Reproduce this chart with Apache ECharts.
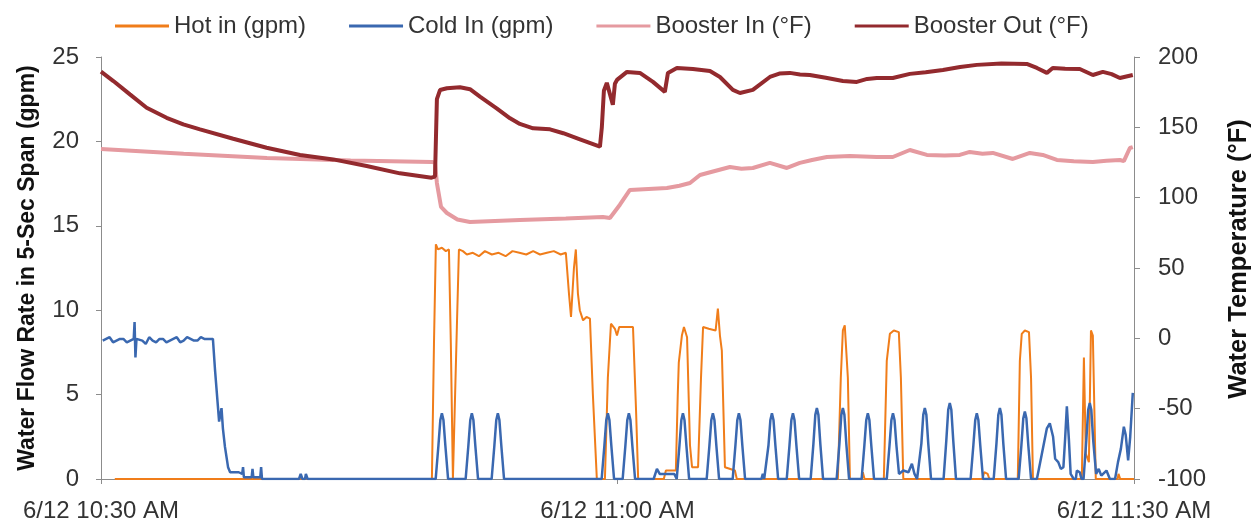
<!DOCTYPE html>
<html>
<head>
<meta charset="utf-8">
<script src="https://cdn.jsdelivr.net/npm/echarts@6/dist/echarts.min.js"></script>
<style>
  html, body { margin: 0; padding: 0; background: #fff; }
  #chart { width: 1255px; height: 529px; }
</style>
</head>
<body>
<div id="chart"></div>
<script>
// Time is given in minutes after 10:30 AM on 6/12.
const xLabels = ['6/12 10:30 AM', '6/12 11:00 AM', '6/12 11:30 AM'];
const seriesNames = ['Hot in (gpm)', 'Cold In (gpm)', 'Booster In (°F)', 'Booster Out (°F)'];

// Hot water flow, gpm
const hotIn = [
  [0.8,0],[19.22,0],[19.34,8],[19.45,13.9],[19.57,13.6],[19.8,13.7],[20.03,13.5],[20.21,13.6],[20.32,8],[20.44,0],
  [20.55,0],[20.67,9],[20.79,13.6],[21.02,13.5],[21.25,13.3],[21.6,13.4],[21.95,13.2],[22.3,13.5],[22.7,13.3],
  [23.1,13.4],[23.5,13.2],[23.9,13.5],[24.3,13.4],[24.7,13.3],[25.1,13.5],[25.5,13.3],[25.9,13.4],[26.3,13.5],
  [26.7,13.3],[27.0,13.4],[27.18,11],[27.3,9.6],[27.47,12.5],[27.58,13.6],[27.7,11],[27.81,10.0],[28.0,9.4],
  [28.2,9.6],[28.4,9.5],[28.57,5],[28.8,0],
  [29.27,0],[29.44,6],[29.62,9.2],[29.85,8.9],[29.97,8.5],[30.1,9.0],[30.5,9.0],[30.9,9.0],[31.08,4],[31.2,0],
  [32.69,0],[32.81,0.5],[33.39,0.5],[33.5,5],[33.56,6.9],[33.74,8.5],[33.86,9.0],[34.04,8.4],[34.21,2],[34.33,0.7],
  [34.68,0.7],[34.85,6],[34.97,9.0],[35.3,8.9],[35.7,8.8],[35.83,10.1],[35.95,8.5],[36.06,7.6],[36.18,3],[36.24,0.7],
  [36.82,0.5],[36.93,0],
  [42.8,0],[42.97,6],[43.09,8.8],[43.2,9.1],[43.38,6],[43.5,0],
  [44.19,0],[44.25,0.4],[44.35,0],
  [45.47,0],[45.64,7],[45.82,8.6],[46.05,8.8],[46.34,8.7],[46.46,6],[46.6,0],
  [51.2,0],[51.3,0.4],[51.5,0.3],[51.6,0],
  [53.25,0],[53.37,7],[53.48,8.6],[53.66,8.8],[53.9,8.7],[54.02,6],[54.13,0],
  [56.97,0],[57.09,7.2],[57.2,1.5],[57.38,1.0],[57.5,8.8],[57.61,8.5],[57.78,0],
  [59.05,0],[59.1,0.3],[59.2,0],[60,0]
];

// Cold water flow, gpm
const coldIn = [
  [0.1,8.2],[0.3,8.3],[0.5,8.4],[0.7,8.1],[0.9,8.2],[1.1,8.3],[1.3,8.3],[1.5,8.1],[1.7,8.2],[1.9,8.3],[1.95,9.3],[2.0,7.2],
  [2.06,8.3],[2.4,8.2],[2.6,8.0],[2.8,8.4],[3.0,8.2],[3.2,8.1],[3.4,8.3],[3.6,8.3],[3.8,8.1],[4.0,8.2],[4.2,8.3],[4.4,8.4],
  [4.6,8.1],[4.8,8.2],[5.0,8.4],[5.2,8.3],[5.4,8.2],[5.6,8.2],[5.8,8.4],[6.0,8.3],[6.5,8.3],[6.62,6.5],[6.79,4.3],
  [6.86,3.4],[6.92,3.3],[7.0,4.2],[7.08,3.0],[7.2,1.9],[7.38,0.7],[7.5,0.4],[8.0,0.4],[8.2,0.3],[8.25,0.7],[8.3,0.1],
  [8.75,0.1],[8.8,0.6],[8.85,0.1],[9.25,0.1],[9.3,0.7],[9.35,0],[11.5,0],[11.6,0.3],[11.7,0],[11.85,0],[11.9,0.3],[12.0,0],
  [19.44,0],[19.6,2.0],[19.71,3.5],[19.8,3.9],[19.89,3.5],[20.0,2.0],[20.16,0],
  [21.18,0],[21.34,2.0],[21.45,3.5],[21.54,3.9],[21.63,3.5],[21.74,2.0],[21.9,0],
  [22.69,0],[22.85,2.0],[22.96,3.5],[23.05,3.9],[23.14,3.5],[23.25,2.0],[23.41,0],
  [29.08,0],[29.24,2.0],[29.35,3.5],[29.44,3.9],[29.53,3.5],[29.64,2.0],[29.8,0],
  [30.3,0],[30.46,2.0],[30.57,3.5],[30.66,3.9],[30.75,3.5],[30.86,2.0],[31.02,0],
  [32.1,0],[32.29,0.6],[32.45,0.3],[33.3,0.3],[33.44,0],
  [33.6,2.0],[33.71,3.5],[33.8,3.9],[33.89,3.5],[34.0,2.0],[34.16,0],
  [35.18,0],[35.34,2.0],[35.45,3.5],[35.54,3.9],[35.63,3.5],[35.74,2.0],[35.9,0],
  [36.69,0],[36.85,2.0],[36.96,3.5],[37.05,3.9],[37.14,3.5],[37.25,2.0],[37.41,0],
  [38.36,0],[38.44,0.3],[38.52,0],
  [38.61,0],[38.77,2.0],[38.88,3.5],[38.97,3.9],[39.06,3.5],[39.17,2.0],[39.33,0],
  [39.83,0],[39.99,2.0],[40.1,3.5],[40.19,3.9],[40.28,3.5],[40.39,2.0],[40.55,0],
  [41.22,0],[41.38,2.1],[41.49,3.8],[41.58,4.2],[41.67,3.8],[41.78,2.1],[41.94,0],
  [42.73,0],[42.89,2.1],[43.0,3.8],[43.09,4.2],[43.18,3.8],[43.29,2.1],[43.45,0],
  [44.18,0],[44.34,2.0],[44.45,3.5],[44.54,3.9],[44.63,3.5],[44.74,2.0],[44.9,0],
  [45.64,0],[45.8,2.0],[45.91,3.5],[46.0,3.9],[46.09,3.5],[46.2,2.0],[46.35,0.3],
  [46.6,0.5],[46.9,0.4],[47.1,0.9],[47.25,0.3],[47.4,0],
  [47.49,0],[47.65,2.1],[47.76,3.8],[47.85,4.2],[47.94,3.8],[48.05,2.1],[48.21,0],
  [48.94,0],[49.1,2.3],[49.21,4.1],[49.3,4.5],[49.39,4.1],[49.5,2.3],[49.66,0],
  [50.51,0],[50.67,2.0],[50.78,3.5],[50.87,3.9],[50.96,3.5],[51.07,2.0],[51.23,0],
  [51.85,0],[52.01,2.1],[52.12,3.8],[52.21,4.2],[52.3,3.8],[52.41,2.1],[52.57,0],
  [53.3,0],[53.46,2.0],[53.57,3.6],[53.66,4.0],[53.75,3.6],[53.86,2.0],[54.02,0],
  [54.36,0],[54.65,1.5],[54.94,3.0],[55.11,3.3],[55.3,2.5],[55.42,1.2],[55.6,1.0],[55.75,0.6],[55.9,0.7],
  [56.0,2.4],[56.1,4.3],[56.22,2.3],[56.32,0.3],[56.5,0],
  [56.62,0],[56.68,0.5],[56.85,0.4],[56.95,0],
  [57.07,0],[57.23,2.3],[57.34,4.1],[57.43,4.5],[57.52,4.1],[57.63,2.3],[57.8,0.3],[57.95,0.6],[58.1,0.2],[58.4,0.5],[58.6,0],
  [58.9,0],[59.07,1.0],[59.24,1.8],[59.41,3.1],[59.52,2.6],[59.66,1.1],[59.78,2.5],[59.93,5.1]
];

// Booster heater inlet temperature, °F
const boosterIn = [
  [0,134.6],[4.8,131.2],[9.64,128.2],[14.5,126.5],[19.22,125.4],[19.4,124.7],[19.51,110.4],[19.75,93.4],[20.09,89.1],
  [20.7,84.5],[21.43,82.7],[24.33,84.1],[27.0,85.2],[29.15,86.3],[29.56,85.6],[30.14,95],[30.72,105.5],[31.8,106.2],
  [32.87,106.9],[33.6,108.5],[34.21,110.4],[34.79,116.1],[35.6,118.8],[36.53,121.8],[37.2,120.6],[37.86,121.1],
  [38.85,124.7],[39.84,121.1],[40.59,124.7],[41.3,126.8],[42.16,128.9],[43.5,129.6],[45.06,128.9],[45.99,128.9],
  [46.98,133.9],[47.97,130.4],[49.0,130.0],[49.88,130.4],[50.46,132.5],[51.2,131.2],[51.8,131.8],[52.96,127.5],
  [53.95,131.8],[54.7,130.4],[55.52,126.8],[56.5,125.9],[57.61,125.4],[58.4,126.2],[59.18,126.8],[59.41,126],
  [59.76,135.3],[59.93,136]
];

// Booster heater outlet temperature, °F
const boosterOut = [
  [0,189.6],[0.72,182.9],[1.68,173.4],[2.65,163.9],[3.81,156.8],[4.78,152.1],[5.75,148.5],[7.68,141.9],[9.62,135.5],
  [11.56,130.3],[13.49,127.2],[15.43,122.5],[17.36,117.3],[19.2,114.2],[19.4,115],
  [19.51,170],[19.69,176.5],[20.09,177.8],[20.85,178.5],[21.43,177.1],[22.01,171.8],[22.98,163.5],[23.76,156.4],
  [24.33,152.4],[25.1,149.3],[26.08,148.6],[26.85,145.8],[27.82,141.5],[28.98,136.2],[29.09,150],[29.21,176],
  [29.38,181.6],[29.73,166],[29.85,181],[29.97,183.7],[30.55,189.4],[31.3,188.7],[32.06,182.3],[32.75,175.2],
  [32.93,188.7],[33.45,192.2],[34.38,191.5],[35.37,190],[35.95,185.8],[36.7,176.6],[37.11,174.4],[37.86,176.6],
  [38.85,185.8],[39.4,188.2],[40.01,188.7],[40.6,187.6],[41.17,187.2],[42.1,185.2],[43.09,183],[43.9,182.3],
  [44.5,184.4],[45.06,185.1],[45.99,185.1],[46.98,188],[47.9,189.2],[48.9,190.8],[49.9,192.9],[50.87,194.4],
  [52.3,195.4],[53.77,195.1],[54.36,192.2],[54.94,188.7],[55.28,192.2],[56.0,191.6],[56.85,191.5],[57.61,187.2],
  [58.19,189.4],[58.7,187.8],[59.18,185.1],[59.93,187.2]
];

const colors = ['#f07d1a', '#3a68b0', '#e59aa0', '#932a2e'];
const axisGrey = '#8c8c8c';
const textColor = '#333';
const fontFamily = '"Liberation Sans", Arial, sans-serif';

const chart = echarts.init(document.getElementById('chart'), null, { renderer: 'canvas' });

chart.setOption({
  animation: false,
  backgroundColor: '#fff',
  textStyle: { fontFamily: fontFamily },
  color: colors,
  legend: {
    data: seriesNames,
    icon: 'rect',
    left: 110,
    top: 9,
    itemWidth: 54,
    itemHeight: 3,
    itemGap: 43,
    textStyle: { fontSize: 24, color: textColor, fontFamily: fontFamily }
  },
  grid: { left: 101, right: 121, top: 57, bottom: 50, containLabel: false, outerBoundsMode: 'none' },
  xAxis: {
    type: 'value',
    min: 0,
    max: 60,
    interval: 30,
    axisLine: { show: true, onZero: false, lineStyle: { color: axisGrey, width: 1 } },
    axisTick: { show: true, length: 5, lineStyle: { color: axisGrey } },
    splitLine: { show: false },
    axisLabel: {
      fontSize: 24, color: textColor, margin: 20,
      formatter: v => xLabels[Math.round(v / 30)]
    }
  },
  yAxis: [
    {
      type: 'value',
      min: 0, max: 25, interval: 5,
      name: 'Water Flow Rate in 5-Sec Span (gpm)',
      nameLocation: 'middle',
      nameRotate: 90,
      nameGap: 62,
      nameTextStyle: { fontSize: 23, fontWeight: 'bold', color: '#111' },
      axisLine: { show: true, lineStyle: { color: axisGrey, width: 1 } },
      axisTick: { show: true, length: 5, lineStyle: { color: axisGrey } },
      splitLine: { show: false },
      axisLabel: { fontSize: 24, color: textColor, margin: 22 }
    },
    {
      type: 'value',
      position: 'right',
      min: -100, max: 200, interval: 50,
      name: 'Water Temperature (°F)',
      nameLocation: 'middle',
      nameRotate: 90,
      nameGap: 92,
      nameTextStyle: { fontSize: 25.5, fontWeight: 'bold', color: '#111', padding: [0, 0, 0, 18] },
      axisLine: { show: true, lineStyle: { color: axisGrey, width: 1 } },
      axisTick: { show: true, length: 6, lineStyle: { color: axisGrey } },
      splitLine: { show: false },
      axisLabel: { fontSize: 24, color: textColor, margin: 24 }
    }
  ],
  series: [
    { name: seriesNames[0], type: 'line', yAxisIndex: 0, data: hotIn, showSymbol: false, symbol: 'none',
      lineStyle: { width: 2, color: colors[0] }, itemStyle: { color: colors[0] } },
    { name: seriesNames[1], type: 'line', yAxisIndex: 0, data: coldIn, showSymbol: false, symbol: 'none',
      lineStyle: { width: 2.5, color: colors[1] }, itemStyle: { color: colors[1] } },
    { name: seriesNames[2], type: 'line', yAxisIndex: 1, data: boosterIn, showSymbol: false, symbol: 'none',
      lineStyle: { width: 4, color: colors[2] }, itemStyle: { color: colors[2] } },
    { name: seriesNames[3], type: 'line', yAxisIndex: 1, data: boosterOut, showSymbol: false, symbol: 'none',
      lineStyle: { width: 4, color: colors[3] }, itemStyle: { color: colors[3] } }
  ]
});
</script>
</body>
</html>
